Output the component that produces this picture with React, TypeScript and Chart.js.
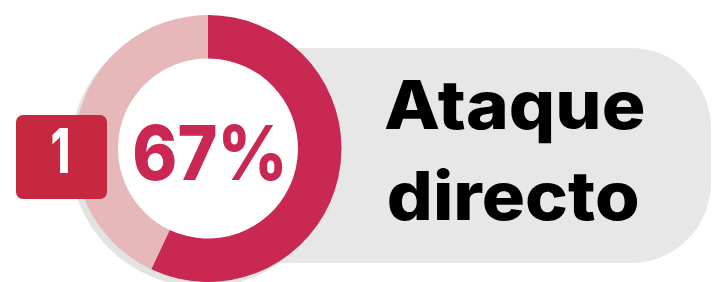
import React, { useEffect, useRef } from "react";
import { Chart, registerables } from "chart.js";

Chart.register(...registerables);

// ---- data ----
const segmentLabels = ["Ataque directo", "Resto"];
const segmentValues = [57, 43];
const segmentColors = ["#c92852", "#e6b8b9"];
const percentLabel = "67%";
const rankLabel = "1";
const titleLines = ["Ataque", "directo"];

const W = 712;
const H = 282;
const FONT = "Inter, 'Noto Sans', sans-serif";

function drawFit(
  ctx: CanvasRenderingContext2D,
  text: string,
  left: number,
  baseline: number,
  targetWidth: number,
  size: number,
  color: string,
  weight = 800
) {
  ctx.save();
  ctx.font = `${weight} ${size}px ${FONT}`;
  ctx.textBaseline = "alphabetic";
  ctx.textAlign = "left";
  const m = ctx.measureText(text);
  const ink = m.actualBoundingBoxLeft + m.actualBoundingBoxRight;
  const s = targetWidth / ink;
  ctx.translate(left + s * m.actualBoundingBoxLeft, baseline);
  ctx.scale(s, 1);
  ctx.fillStyle = color;
  ctx.fillText(text, 0, 0);
  ctx.restore();
}

const decorPlugin = {
  id: "decor",
  beforeDraw(chart: any) {
    const ctx: CanvasRenderingContext2D = chart.ctx;
    const meta = chart.getDatasetMeta(0);
    const arc = meta.data[0];
    const cx = arc.x;
    const cy = arc.y;
    const r = arc.outerRadius;
    ctx.save();
    // pill background
    ctx.fillStyle = "#e7e7e7";
    ctx.beginPath();
    (ctx as any).roundRect(cx, 48, 711 - cx, 215, [0, 80, 80, 0]);
    ctx.fill();
    // shadow circle
    ctx.fillStyle = "#e3e3e3";
    ctx.beginPath();
    ctx.arc(cx - 5, cy + 5, r, 0, Math.PI * 2);
    ctx.fill();
    // white hole
    ctx.fillStyle = "#ffffff";
    ctx.beginPath();
    ctx.arc(cx, cy, arc.innerRadius + 1, 0, Math.PI * 2);
    ctx.fill();
    ctx.restore();
  },
  afterDraw(chart: any) {
    const ctx: CanvasRenderingContext2D = chart.ctx;
    ctx.save();
    // rank square
    ctx.fillStyle = "#c5283f";
    ctx.beginPath();
    (ctx as any).roundRect(16, 115, 91, 84, 7);
    ctx.fill();
    ctx.restore();
    drawFit(ctx, rankLabel, 52, 173, 16, 62, "#ffffff");
    drawFit(ctx, percentLabel, 135, 180, 147, 76, "#c92852");
    drawFit(ctx, titleLines[0], 385, 129, 258, 67, "#000000");
    drawFit(ctx, titleLines[1], 389, 220, 249, 67, "#000000");
  },
};

export default function App() {
  const ref = useRef<HTMLCanvasElement | null>(null);
  useEffect(() => {
    document.body.style.margin = "0";
    const canvas = ref.current!;
    const chart = new Chart(canvas, {
      type: "doughnut",
      data: {
        labels: segmentLabels,
        datasets: [
          {
            data: segmentValues,
            backgroundColor: segmentColors,
            borderWidth: 0,
            hoverOffset: 0,
          },
        ],
      },
      options: {
        responsive: false,
        animation: false,
        cutout: 90,
        layout: { padding: { left: 74, right: 370, top: 15, bottom: 0 } },
        plugins: {
          legend: { display: false },
          tooltip: { enabled: false },
        },
        events: [],
      },
      plugins: [decorPlugin],
    });
    return () => chart.destroy();
  }, []);
  return (
    <div style={{ position: "fixed", left: 0, top: 0, width: W, height: H, background: "#fff" }}>
      <canvas ref={ref} width={W} height={H} style={{ width: W, height: H, display: "block" }} />
    </div>
  );
}
